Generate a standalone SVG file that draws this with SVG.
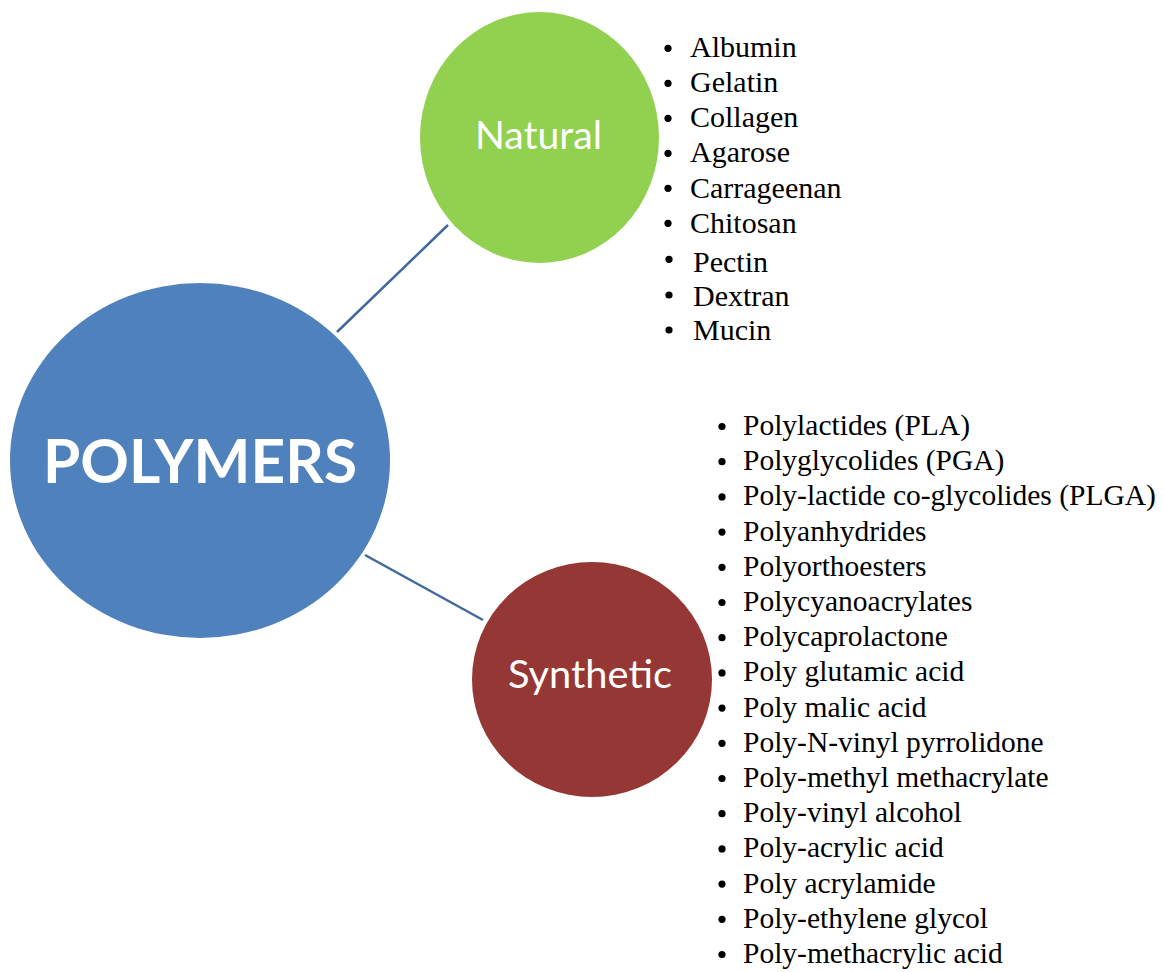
<svg xmlns="http://www.w3.org/2000/svg" width="1163" height="972" viewBox="0 0 1163 972">
<style>
.lbl{font-family:Lato,"Open Sans","Liberation Sans",sans-serif;fill:#ffffff;text-anchor:middle}
.nat{font-family:"Liberation Serif","DejaVu Serif",serif;font-size:30px;fill:#000000}
.syn{font-family:"Liberation Serif","DejaVu Serif",serif;font-size:29.5px;fill:#000000}
.conn{stroke:#41699B;stroke-width:2.5;fill:none}
.bul{fill:#000000}
</style>
<rect x="0" y="0" width="1163" height="972" fill="#ffffff"/>
<g id="connectors">
<line class="conn" x1="337" y1="332" x2="448" y2="225"/>
<line class="conn" x1="365" y1="555" x2="483" y2="620"/>
</g>
<g id="polymers">
<ellipse cx="200" cy="460.5" rx="190" ry="177.5" fill="#4F81BD"/>
<text class="lbl" x="200" y="483" font-size="62" font-weight="bold" textLength="314" lengthAdjust="spacingAndGlyphs">POLYMERS</text>
</g>
<g id="natural">
<ellipse cx="539.5" cy="137.5" rx="119.5" ry="125.5" fill="#92D050"/>
<text class="lbl" x="538.5" y="149" font-size="38" textLength="127" lengthAdjust="spacingAndGlyphs">Natural</text>
</g>
<g id="synthetic">
<ellipse cx="592" cy="679.5" rx="120" ry="117.5" fill="#953735"/>
<text class="lbl" x="590" y="688" font-size="38" textLength="164" lengthAdjust="spacingAndGlyphs">Synthetic</text>
</g>
<g id="natural-list">
<circle class="bul" cx="668" cy="48.3" r="3.6"/><text class="nat" x="690" y="57">Albumin</text>
<circle class="bul" cx="668" cy="83.3" r="3.6"/><text class="nat" x="690" y="92">Gelatin</text>
<circle class="bul" cx="668" cy="118.3" r="3.6"/><text class="nat" x="690" y="127">Collagen</text>
<circle class="bul" cx="668" cy="153.3" r="3.6"/><text class="nat" x="690" y="162">Agarose</text>
<circle class="bul" cx="668" cy="188.3" r="3.6"/><text class="nat" x="690" y="198">Carrageenan</text>
<circle class="bul" cx="668" cy="223.3" r="3.6"/><text class="nat" x="690" y="233">Chitosan</text>
<circle class="bul" cx="669" cy="259.3" r="3.6"/><text class="nat" x="693" y="272">Pectin</text>
<circle class="bul" cx="669" cy="295" r="3.6"/><text class="nat" x="693" y="306">Dextran</text>
<circle class="bul" cx="669" cy="330" r="3.6"/><text class="nat" x="693" y="340">Mucin</text>
</g>
<g id="synthetic-list">
<circle class="bul" cx="722" cy="426.5" r="3.6"/><text class="syn" x="743" y="435">Polylactides (PLA)</text>
<circle class="bul" cx="722" cy="461.7" r="3.6"/><text class="syn" x="743" y="470.2">Polyglycolides (PGA)</text>
<circle class="bul" cx="722" cy="496.9" r="3.6"/><text class="syn" x="743" y="505.4">Poly-lactide co-glycolides (PLGA)</text>
<circle class="bul" cx="722" cy="532.1" r="3.6"/><text class="syn" x="743" y="540.6">Polyanhydrides</text>
<circle class="bul" cx="722" cy="567.3" r="3.6"/><text class="syn" x="743" y="575.8">Polyorthoesters</text>
<circle class="bul" cx="722" cy="602.5" r="3.6"/><text class="syn" x="743" y="611">Polycyanoacrylates</text>
<circle class="bul" cx="722" cy="637.7" r="3.6"/><text class="syn" x="743" y="646.2">Polycaprolactone</text>
<circle class="bul" cx="722" cy="672.9" r="3.6"/><text class="syn" x="743" y="681.4">Poly glutamic acid</text>
<circle class="bul" cx="722" cy="708.1" r="3.6"/><text class="syn" x="743" y="716.6">Poly malic acid</text>
<circle class="bul" cx="722" cy="743.3" r="3.6"/><text class="syn" x="743" y="751.8">Poly-N-vinyl pyrrolidone</text>
<circle class="bul" cx="722" cy="778.5" r="3.6"/><text class="syn" x="743" y="787">Poly-methyl methacrylate</text>
<circle class="bul" cx="722" cy="813.7" r="3.6"/><text class="syn" x="743" y="822.2">Poly-vinyl alcohol</text>
<circle class="bul" cx="722" cy="848.9" r="3.6"/><text class="syn" x="743" y="857.4">Poly-acrylic acid</text>
<circle class="bul" cx="722" cy="884.1" r="3.6"/><text class="syn" x="743" y="892.6">Poly acrylamide</text>
<circle class="bul" cx="722" cy="919.3" r="3.6"/><text class="syn" x="743" y="927.8">Poly-ethylene glycol</text>
<circle class="bul" cx="722" cy="954.5" r="3.6"/><text class="syn" x="743" y="963">Poly-methacrylic acid</text>
</g>
</svg>
